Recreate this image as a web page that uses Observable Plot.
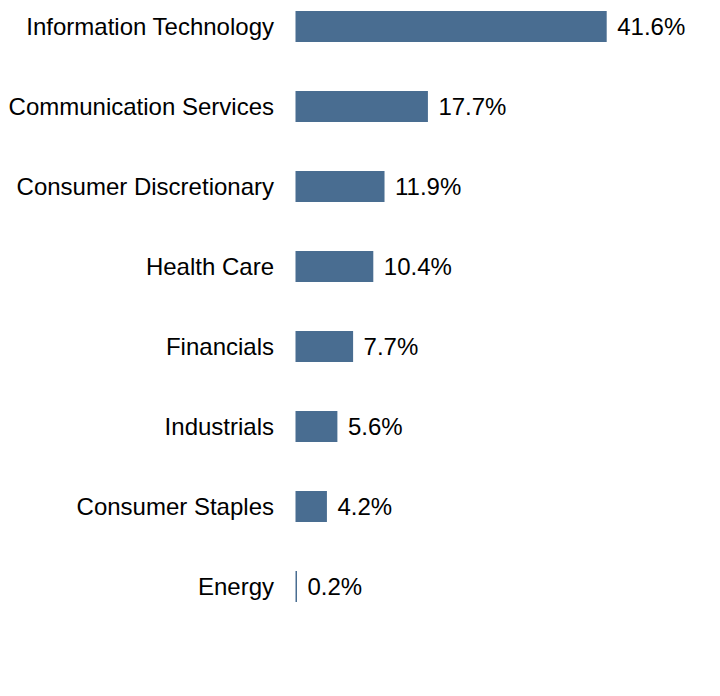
<!DOCTYPE html>
<html>
<head>
<meta charset="utf-8">
<script src="https://cdn.jsdelivr.net/npm/d3@7"></script>
<script src="https://cdn.jsdelivr.net/npm/@observablehq/plot@0.6"></script>
<style>
  html, body { margin: 0; padding: 0; background: #fff; }
</style>
</head>
<body>
<div id="chart"></div>
<script>
const sectors = ["Information Technology", "Communication Services", "Consumer Discretionary", "Health Care", "Financials", "Industrials", "Consumer Staples", "Energy"];
const weights = [41.6, 17.7, 11.9, 10.4, 7.7, 5.6, 4.2, 0.2];

const data = sectors.map((s, i) => ({sector: s, value: weights[i], label: weights[i].toFixed(1) + "%"}));

const chart = Plot.plot({
  width: 720,
  height: 696,
  marginLeft: 295.5,
  marginRight: 113.3,
  marginTop: 11,
  marginBottom: 94,
  style: {fontFamily: "'Liberation Sans', Arial, sans-serif", fontSize: "24px", background: "#fff"},
  x: {domain: [0, 41.6], axis: null},
  y: {domain: sectors, paddingInner: 0.6125, paddingOuter: 0, axis: null},
  marks: [
    Plot.barX(data, {x: "value", y: "sector", fill: "#496d91"}),
    Plot.text(data, {x: 0, y: "sector", text: "sector", textAnchor: "end", dx: -22, fill: "#000", fontSize: 24}),
    Plot.text(data, {x: "value", y: "sector", text: "label", textAnchor: "start", dx: 10, fill: "#000", fontSize: 24})
  ]
});
document.getElementById("chart").appendChild(chart);
</script>
</body>
</html>
